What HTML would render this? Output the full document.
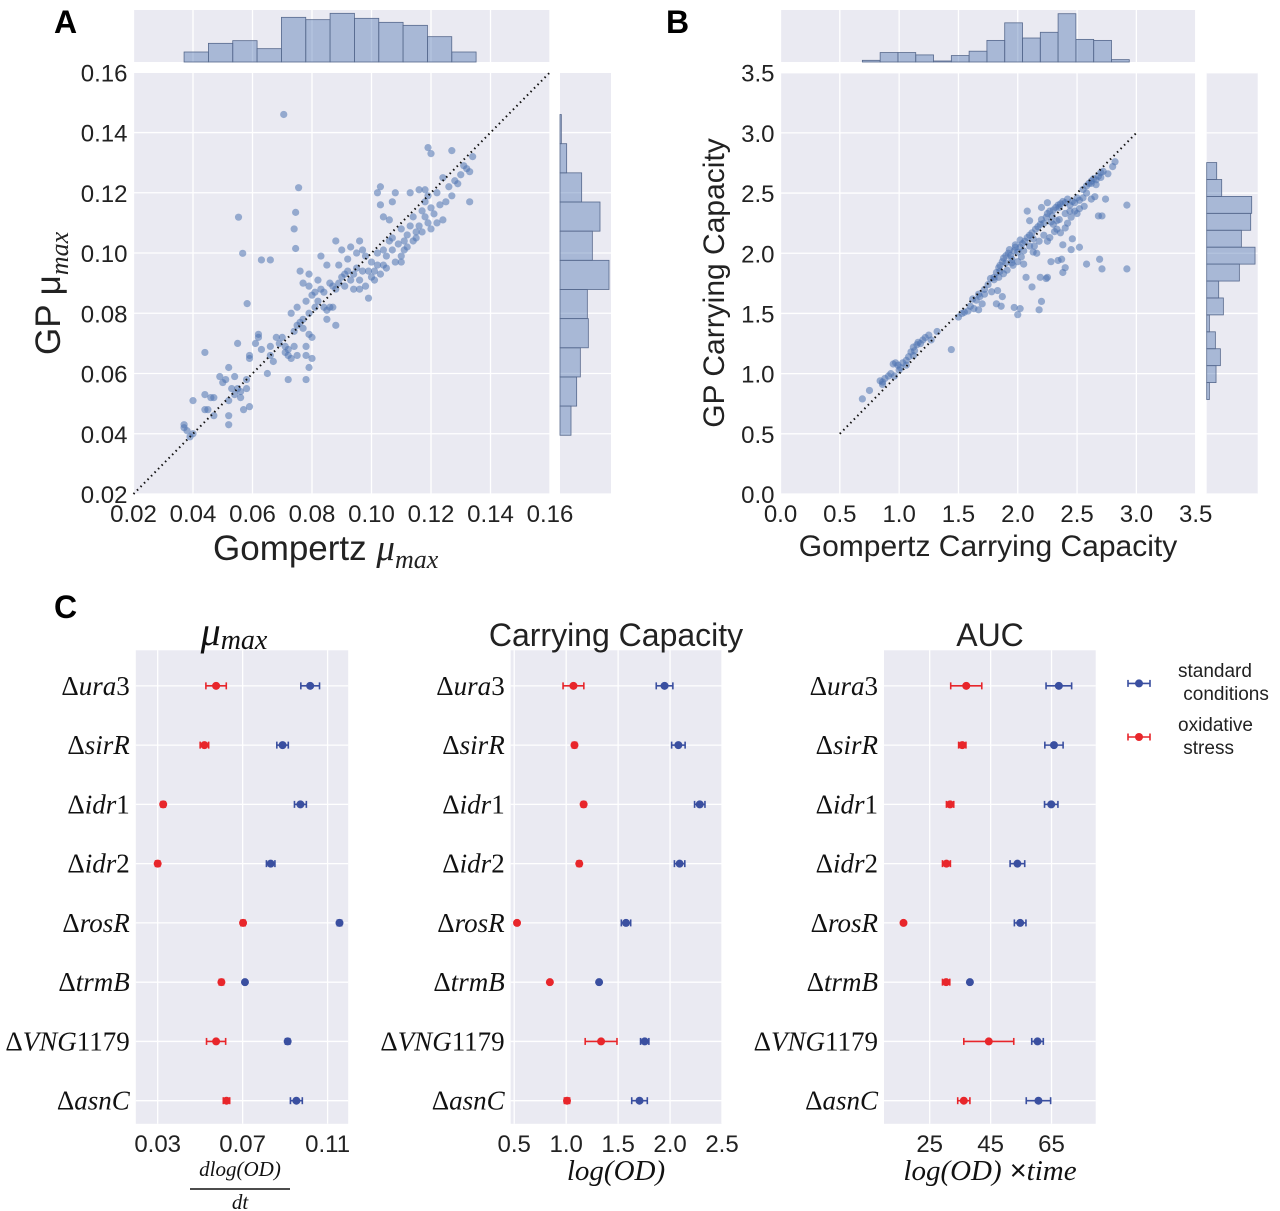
<!DOCTYPE html>
<html><head><meta charset="utf-8"><style>
html,body{margin:0;padding:0;background:#fff;}
svg{display:block;font-family:"Liberation Sans",sans-serif;}
.tk{font-size:24px;fill:#222;}
.mi{font-family:"Liberation Serif",serif;font-style:italic;}
</style></head><body>
<svg id="fig" width="1280" height="1211" viewBox="0 0 1280 1211" xmlns="http://www.w3.org/2000/svg">
<text x="54" y="33" font-size="32" font-weight="bold">A</text>
<text x="666" y="33" font-size="32" font-weight="bold">B</text>
<text x="54" y="618" font-size="32" font-weight="bold">C</text>
<g id="root"></g>
</svg>
<script>
// ---------- Panel A data ----------
const aTicks = [0.02,0.04,0.06,0.08,0.10,0.12,0.14,0.16];
const aTickLabels = ["0.02","0.04","0.06","0.08","0.10","0.12","0.14","0.16"];
const aGompertz = [0.0705,0.0553,0.0567,0.063,0.066,0.0755,0.0745,0.074,0.0745,0.0582,0.037,0.037,0.038,0.039,0.040,0.040,0.044,0.044,0.045,0.046,0.047,0.047,0.049,0.050,0.051,0.052,0.052,0.052,0.052,0.053,0.054,0.054,0.055,0.056,0.056,0.057,0.058,0.059,0.058,0.055,0.044,0.059,0.059,0.061,0.062,0.062,0.063,0.065,0.066,0.066,0.067,0.068,0.069,0.070,0.071,0.071,0.072,0.072,0.073,0.074,0.074,0.075,0.075,0.076,0.077,0.078,0.078,0.079,0.080,0.080,0.079,0.078,0.072,0.077,0.073,0.075,0.078,0.079,0.080,0.081,0.081,0.082,0.083,0.084,0.085,0.085,0.086,0.087,0.088,0.087,0.088,0.089,0.090,0.091,0.091,0.092,0.093,0.094,0.094,0.095,0.096,0.096,0.097,0.098,0.099,0.099,0.100,0.100,0.101,0.102,0.102,0.103,0.104,0.104,0.105,0.105,0.106,0.107,0.107,0.108,0.109,0.110,0.110,0.111,0.111,0.112,0.113,0.114,0.114,0.115,0.116,0.117,0.117,0.118,0.118,0.119,0.119,0.120,0.120,0.121,0.122,0.122,0.123,0.124,0.124,0.125,0.126,0.127,0.128,0.129,0.130,0.131,0.132,0.133,0.134,0.133,0.120,0.119,0.127,0.102,0.103,0.108,0.113,0.116,0.118,0.104,0.106,0.107,0.103,0.096,0.095,0.093,0.088,0.090,0.085,0.083,0.082,0.079,0.079,0.077,0.076,0.092,0.089,0.086,0.084,0.098,0.101,0.110,0.112,0.115,0.097];
const aGP = [0.146,0.1119,0.0999,0.0977,0.0977,0.1217,0.1135,0.108,0.1015,0.0832,0.043,0.042,0.041,0.039,0.040,0.051,0.053,0.048,0.048,0.052,0.052,0.046,0.059,0.057,0.058,0.062,0.051,0.046,0.043,0.055,0.059,0.053,0.055,0.054,0.052,0.048,0.055,0.049,0.058,0.070,0.067,0.066,0.065,0.070,0.072,0.073,0.068,0.060,0.066,0.069,0.064,0.072,0.070,0.072,0.069,0.067,0.066,0.068,0.065,0.069,0.074,0.066,0.076,0.077,0.075,0.069,0.066,0.073,0.072,0.065,0.062,0.058,0.058,0.078,0.080,0.082,0.084,0.080,0.086,0.087,0.082,0.084,0.088,0.082,0.081,0.078,0.082,0.082,0.076,0.089,0.088,0.090,0.092,0.093,0.089,0.094,0.091,0.088,0.093,0.095,0.091,0.088,0.094,0.099,0.094,0.085,0.097,0.092,0.094,0.096,0.100,0.093,0.101,0.096,0.099,0.095,0.104,0.101,0.105,0.097,0.103,0.097,0.108,0.101,0.104,0.106,0.109,0.104,0.112,0.107,0.109,0.114,0.107,0.112,0.117,0.119,0.110,0.115,0.108,0.113,0.110,0.120,0.116,0.125,0.111,0.117,0.122,0.119,0.124,0.123,0.126,0.129,0.128,0.127,0.132,0.117,0.133,0.135,0.134,0.120,0.122,0.120,0.120,0.121,0.121,0.112,0.111,0.117,0.116,0.104,0.100,0.102,0.104,0.101,0.096,0.099,0.091,0.093,0.089,0.090,0.094,0.098,0.096,0.090,0.087,0.089,0.091,0.099,0.102,0.105,0.101];
const aTopHistStart = 0.037, aTopHistWidth = 0.00818;
const aTopHistCounts = [30,56,64,40,134,127,146,131,119,110,76,30];
const aRightHistStart = 0.0395, aRightHistWidth = 0.00968;
const aRightHistCounts = [33,50,61,85,82,147,97,120,65,20,4];

// ---------- Panel B data ----------
const bTicks = [0,0.5,1,1.5,2,2.5,3,3.5];
const bTickLabels = ["0.0","0.5","1.0","1.5","2.0","2.5","3.0","3.5"];
const bGompertz = [0.69,0.75,0.84,0.86,0.88,0.91,0.93,0.95,0.97,0.99,1.00,1.01,1.03,1.06,1.08,1.10,1.12,1.13,1.15,1.16,1.18,1.20,1.22,1.25,1.32,1.44,1.50,1.53,1.55,1.60,1.62,1.65,1.67,1.68,1.72,1.75,1.77,1.80,1.82,1.84,1.85,1.87,1.88,1.90,1.92,1.94,1.95,1.97,1.98,2.00,2.02,2.04,2.06,2.08,2.10,2.12,2.13,2.15,2.17,2.19,2.20,2.22,2.24,2.25,2.27,2.29,2.30,2.32,2.34,2.36,2.38,2.40,2.42,2.44,2.46,2.48,2.50,2.52,2.55,2.58,2.60,2.62,2.64,2.66,2.68,2.70,2.72,2.80,2.82,2.92,2.92,2.71,2.69,2.58,2.45,2.40,2.38,2.37,2.34,2.28,2.25,2.24,2.19,2.12,2.07,2.05,2.20,2.18,2.02,2.00,1.97,1.82,1.86,1.87,1.83,1.63,1.70,1.67,1.58,2.40,2.42,2.36,2.31,2.27,2.22,2.18,2.14,2.10,2.05,2.03,2.00,1.96,1.91,1.88,1.84,1.80,2.10,2.08,2.20,2.25,2.48,2.52,2.56,2.62,2.65,2.68,2.74,2.71,2.30,2.35,2.45,2.50,2.16,2.25,2.33,1.93,1.98,2.02,1.95,1.90,1.85,2.13,2.35,2.28,2.46,2.52,2.38,2.62,2.70,2.76,2.66,2.55,2.58,2.44,2.40,2.33,1.78,1.72,1.06,1.12,1.27,0.96,0.86];
const bGP = [0.79,0.86,0.94,0.93,0.96,0.98,1.00,1.08,1.09,1.07,1.03,1.05,1.09,1.11,1.14,1.18,1.22,1.19,1.24,1.26,1.25,1.28,1.30,1.32,1.35,1.20,1.47,1.50,1.51,1.56,1.62,1.61,1.66,1.64,1.70,1.74,1.79,1.80,1.84,1.88,1.90,1.93,1.96,1.98,2.00,1.98,1.95,2.02,2.05,2.01,2.05,2.08,2.10,2.13,2.15,2.17,2.12,2.20,2.22,2.24,2.28,2.25,2.30,2.33,2.35,2.31,2.36,2.38,2.40,2.41,2.43,2.42,2.45,2.40,2.43,2.42,2.46,2.44,2.53,2.56,2.58,2.60,2.62,2.61,2.64,2.63,2.68,2.72,2.76,2.40,1.87,1.87,1.95,1.91,2.03,1.88,1.84,1.95,1.94,1.93,1.80,1.79,1.80,1.72,1.80,1.91,1.60,1.53,1.54,1.49,1.55,1.58,1.56,1.64,1.69,1.54,1.58,1.53,1.52,2.21,2.25,2.17,2.18,2.13,2.15,2.10,2.06,2.06,2.02,1.97,1.93,1.90,1.86,1.83,1.80,1.78,2.27,2.35,2.38,2.42,2.35,2.37,2.39,2.45,2.47,2.31,2.45,2.31,2.24,2.28,2.30,2.33,2.00,2.10,2.20,2.03,2.07,2.11,1.92,1.92,1.85,2.01,2.38,2.26,2.12,2.05,2.07,2.58,2.67,2.66,2.57,2.46,2.50,2.35,2.33,2.27,1.68,1.66,1.07,1.15,1.28,0.98,0.91];
const bTopHistStart = 0.69, bTopHistWidth = 0.15;
const bTopHistCounts = [5,28,28,21,3,19,32,64,116,71,88,143,67,64,7];
const bRightHistStart = 0.785, bRightHistWidth = 0.1406;
const bRightHistCounts = [8,28,41,26,8,50,36,98,145,104,132,135,45,30];

// ---------- Panel C data ----------
const strains = ["ura3","sirR","idr1","idr2","rosR","trmB","VNG|1179","asnC"];
const muTicks = [0.03,0.07,0.11];
const muTickLabels = ["0.03","0.07","0.11"];
const muStd = [0.1018,0.0888,0.0972,0.0832,0.1156,0.0711,0.0912,0.0953];
const muStdErr = [0.0044,0.0027,0.0028,0.002,0.001,0.0005,0.001,0.0028];
const muOx = [0.0575,0.052,0.0326,0.030,0.0702,0.060,0.0575,0.0624];
const muOxErr = [0.0048,0.002,0.001,0.001,0.001,0.001,0.0045,0.0015];
const ccTicks = [0.5,1.0,1.5,2.0,2.5];
const ccTickLabels = ["0.5","1.0","1.5","2.0","2.5"];
const ccStd = [1.947,2.08,2.286,2.092,1.576,1.317,1.756,1.706];
const ccStdErr = [0.08,0.065,0.05,0.05,0.045,0.01,0.04,0.075];
const ccOx = [1.07,1.08,1.168,1.126,0.527,0.843,1.336,1.008];
const ccOxErr = [0.1,0.02,0.02,0.02,0.01,0.01,0.153,0.025];
const aucTicks = [25,45,65];
const aucTickLabels = ["25","45","65"];
const aucStd = [67.4,65.8,64.9,53.8,54.7,38.2,60.4,60.7];
const aucStdErr = [4.2,3.0,2.2,2.4,1.9,0.3,1.9,4.0];
const aucOx = [37.0,35.7,31.7,30.5,16.4,30.4,44.4,36.2];
const aucOxErr = [5.1,1.2,1.2,1.3,0.3,1.2,8.2,2.0];

const NS = "http://www.w3.org/2000/svg";
const root = document.getElementById('root');
function mk(tag, attrs, parent, text){
  const e = document.createElementNS(NS, tag);
  for (const k in attrs) e.setAttribute(k, attrs[k]);
  if (text !== undefined) e.textContent = text;
  (parent||root).appendChild(e);
  return e;
}
function lin(d0,d1,r0,r1){ return v => r0 + (v-d0)/(d1-d0)*(r1-r0); }
const BG = "#EAEAF2", BLUE = "#4C72B0";

function bgRect(x,y,w,h,name){
  const r = mk('rect',{x:x,y:y,width:w,height:h,fill:BG});
  
  
}
function vgrid(sx,ticks,y0,y1){
  ticks.forEach(t=>{ const l=mk('line',{x1:sx(t),x2:sx(t),y1:y0,y2:y1,stroke:'#fff','stroke-width':1.3});
      });
}
function hgrid(sy,ticks,x0,x1){
  ticks.forEach(t=>{ const l=mk('line',{x1:x0,x2:x1,y1:sy(t),y2:sy(t),stroke:'#fff','stroke-width':1.3});
      });
}

function jointPanel(o){
  const sx = lin(o.xd[0],o.xd[1],o.L,o.R), sy = lin(o.yd[0],o.yd[1],o.B,o.T);
  bgRect(o.L,10,o.R-o.L,52,o.p+'-top-hist-bg');
  vgrid(sx,o.ticks,10,62);
  const hh = lin(0,o.topMax,62,10);
  o.topCounts.forEach((c,i)=>{
    const x0=sx(o.topStart+i*o.topW), x1=sx(o.topStart+(i+1)*o.topW);
    const r=mk('rect',{x:x0,y:hh(c),width:x1-x0,height:62-hh(c),fill:'rgba(76,114,176,0.42)',stroke:'#56688c','stroke-width':0.8});
     
  });
  bgRect(o.HL,o.T,o.HR-o.HL,o.B-o.T,o.p+'-right-hist-bg');
  hgrid(sy,o.ticks,o.HL,o.HR);
  const hw = lin(0,o.rightMax,o.HL,o.HR);
  o.rightCounts.forEach((c,i)=>{
    const y0=sy(o.rightStart+(i+1)*o.rightW), y1=sy(o.rightStart+i*o.rightW);
    const r=mk('rect',{x:o.HL,y:y0,width:hw(c)-o.HL,height:y1-y0,fill:'rgba(76,114,176,0.42)',stroke:'#56688c','stroke-width':0.8});
     
  });
  bgRect(o.L,o.T,o.R-o.L,o.B-o.T,o.p+'-scatter-bg');
  vgrid(sx,o.ticks,o.T,o.B); hgrid(sy,o.ticks,o.L,o.R);
  o.xs.forEach((v,i)=>{
    const c=mk('circle',{cx:sx(v),cy:sy(o.ys[i]),r:3.6,fill:BLUE,'fill-opacity':0.55});
     
  });
  const d=mk('line',{x1:sx(o.diag[0]),y1:sy(o.diag[0]),x2:sx(o.diag[1]),y2:sy(o.diag[1]),stroke:'#111','stroke-width':2,'stroke-dasharray':'1.5 3.5'});
   
  o.ticks.forEach((t,i)=>{
    const a=mk('text',{x:sx(t),y:o.B+28,'text-anchor':'middle',class:'tk','font-size':25},undefined,o.labels[i]);
     
    const b=mk('text',{x:o.L-6,y:sy(t)+9,'text-anchor':'end',class:'tk','font-size':25},undefined,o.labels[i]);
     
  });
}

jointPanel({p:'a',L:133.5,R:550,T:72.3,B:494,HL:560,HR:611,xd:[0.02,0.16],yd:[0.02,0.16],ticks:aTicks,labels:aTickLabels,
  topStart:aTopHistStart,topW:aTopHistWidth,topCounts:aTopHistCounts,topMax:156,
  rightStart:aRightHistStart,rightW:aRightHistWidth,rightCounts:aRightHistCounts,rightMax:153,
  xs:aGompertz,ys:aGP,diag:[0.02,0.16]});
jointPanel({p:'b',L:780.5,R:1195.7,T:72.7,B:494,HL:1206.7,HR:1257.7,xd:[0,3.5],yd:[0,3.5],ticks:bTicks,labels:bTickLabels,
  topStart:bTopHistStart,topW:bTopHistWidth,topCounts:bTopHistCounts,topMax:154,
  rightStart:bRightHistStart,rightW:bRightHistWidth,rightCounts:bRightHistCounts,rightMax:153,
  xs:bGompertz,ys:bGP,diag:[0.5,3.0]});

let t;
t=mk('text',{x:213,y:560,'font-size':35,fill:'#222'});
t.innerHTML='Gompertz <tspan class="mi" font-size="37">μ</tspan><tspan class="mi" font-size="26" dy="8">max</tspan>';
 
t=mk('text',{transform:'translate(60,355) rotate(-90)','font-size':35,fill:'#222'});
t.innerHTML='GP μ<tspan class="mi" font-size="26" dy="8">max</tspan>';
 
t=mk('text',{x:988,y:556,'font-size':30,fill:'#222','text-anchor':'middle'},undefined,'Gompertz Carrying Capacity');
 
t=mk('text',{transform:'translate(724,283) rotate(-90)','font-size':30,fill:'#222','text-anchor':'middle'},undefined,'GP Carrying Capacity');
 

const CT=650.3, CB=1123.8;
const sRow = lin(-0.6,7.39,CT,CB);
function errPanel(o){
  const sx=lin(o.xd[0],o.xd[1],o.L,o.R);
  bgRect(o.L,CT,o.R-o.L,CB-CT,o.p+'-plot-bg');
  vgrid(sx,o.ticks,CT,CB);
  hgrid(sRow,strains.map((s,i)=>i),o.L,o.R);
  function series(vals,errs,color,nm){
    vals.forEach((v,i)=>{
      const y=sRow(i), a=sx(v-errs[i]), b=sx(v+errs[i]);
      const g=mk('g',{stroke:color,'stroke-width':1.6});
       
      mk('line',{x1:a,x2:b,y1:y,y2:y},g);
      mk('line',{x1:a,x2:a,y1:y-3.5,y2:y+3.5},g);
      mk('line',{x1:b,x2:b,y1:y-3.5,y2:y+3.5},g);
      const c=mk('circle',{cx:sx(v),cy:y,r:4,fill:color});
       
    });
  }
  series(o.ox,o.oxErr,'#e8262b','oxidative');
  series(o.std,o.stdErr,'#3a4fa0','standard');
  o.ticks.forEach((tk,i)=>{
    const a=mk('text',{x:sx(tk),y:CB+28,'text-anchor':'middle',class:'tk'},undefined,o.labels[i]);
     
  });
  strains.forEach((s,i)=>{
    const parts=s.split('|');
    const e=mk('text',{x:o.L-6,y:sRow(i)+9,'text-anchor':'end','font-size':27,fill:'#111','font-family':'Liberation Serif, serif'});
    let html;
    if(parts.length>1) html='Δ<tspan font-style="italic">'+parts[0]+'</tspan>'+parts[1];
    else { const m=parts[0].match(/^(\D+)(\d*)$/); html='Δ<tspan font-style="italic">'+m[1]+'</tspan>'+m[2]; }
    e.innerHTML=html;
     
  });
}
errPanel({p:'mu',L:135.8,R:348.2,xd:[0.0197,0.1197],ticks:muTicks,labels:muTickLabels,std:muStd,stdErr:muStdErr,ox:muOx,oxErr:muOxErr});
errPanel({p:'cc',L:510.7,R:722,xd:[0.466,2.5],ticks:ccTicks,labels:ccTickLabels,std:ccStd,stdErr:ccStdErr,ox:ccOx,oxErr:ccOxErr});
errPanel({p:'auc',L:884,R:1095.7,xd:[10,79.5],ticks:aucTicks,labels:aucTickLabels,std:aucStd,stdErr:aucStdErr,ox:aucOx,oxErr:aucOxErr});

t=mk('text',{x:234,y:645,'text-anchor':'middle',fill:'#111','font-family':'Liberation Serif, serif','font-style':'italic'});
t.innerHTML='<tspan font-size="40">μ</tspan><tspan font-size="28" dy="4">max</tspan>';
 
t=mk('text',{x:616,y:646,'text-anchor':'middle','font-size':32,fill:'#222'},undefined,'Carrying Capacity');
 
t=mk('text',{x:990,y:646,'text-anchor':'middle','font-size':32,fill:'#222'},undefined,'AUC');
 

t=mk('text',{x:240,y:1176,'text-anchor':'middle','font-size':21,fill:'#111',class:'mi'},undefined,'dlog(OD)');
 
t=mk('line',{x1:190,x2:290,y1:1189,y2:1189,stroke:'#111','stroke-width':1.5});
 
t=mk('text',{x:240,y:1209,'text-anchor':'middle','font-size':21,fill:'#111',class:'mi'},undefined,'dt');
 
t=mk('text',{x:616,y:1180,'text-anchor':'middle','font-size':29,fill:'#111',class:'mi'},undefined,'log(OD)');
 
t=mk('text',{x:990,y:1180,'text-anchor':'middle','font-size':29,fill:'#111'});
t.innerHTML='<tspan class="mi">log(OD)</tspan> ×<tspan class="mi">time</tspan>';
 

const lg=mk('g',{});
 
[['standard','#3a4fa0',683.4,['standard',' conditions'],677],['oxidative','#e8262b',737,['oxidative',' stress'],731]].forEach(e=>{
  const g=mk('g',{stroke:e[1],'stroke-width':1.6},lg);
   
  mk('line',{x1:1128,x2:1150,y1:e[2],y2:e[2]},g);
  mk('line',{x1:1128,x2:1128,y1:e[2]-3.5,y2:e[2]+3.5},g);
  mk('line',{x1:1150,x2:1150,y1:e[2]-3.5,y2:e[2]+3.5},g);
  mk('circle',{cx:1139,cy:e[2],r:4,fill:e[1],stroke:'none'},g);
  const a=mk('text',{x:1178,y:e[4],'font-size':19,fill:'#222'},lg,e[3][0]);
   
  const b=mk('text',{x:1178,y:e[4]+23,'font-size':19,fill:'#222'},lg,'\u00a0'+e[3][1].trim());
   
});
</script>
</body></html>
